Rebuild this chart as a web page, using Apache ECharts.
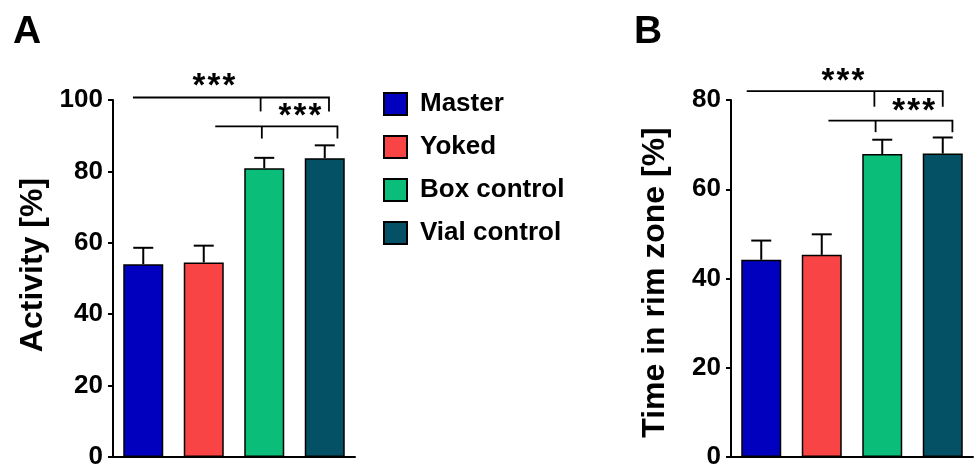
<!DOCTYPE html>
<html>
<head>
<meta charset="utf-8">
<script src="https://cdn.jsdelivr.net/npm/echarts@6.0.0/dist/echarts.min.js"></script>
<style>
html,body{margin:0;padding:0;background:#fff;}
#chart{width:977px;height:470px;}
</style>
</head>
<body>
<div id="chart"></div>
<script>
// ---- data ----
const categories = ['Master', 'Yoked', 'Box control', 'Vial control'];
const activityMean = [54.0, 54.5, 80.9, 83.7];
const activityUpper = [58.6, 59.2, 83.8, 87.3];
const rimMean = [44.2, 45.3, 67.9, 68.0];
const rimUpper = [48.5, 49.9, 71.1, 71.6];
const activityTicks = [0, 20, 40, 60, 80, 100];
const rimTicks = [0, 20, 40, 60, 80];
// significance brackets: [xStart, xEnd, yLine, yDrop, xTick]
const bracketsA = [[-0.17, 3.07, 100.7, 96.8, 1.94], [1.19, 3.21, 92.6, 89.2, 1.96]];
const bracketsB = [[-0.24, 3.0, 82.0, 78.5, 1.87], [1.11, 3.16, 75.4, 72.8, 1.89]];
// star labels: [x, y, text]
const starsA = [[1.17, 105.1, '***'], [2.59, 96.8, '***']];
const starsB = [[1.35, 85.2, '***'], [2.52, 78.5, '***']];

// ---- styles ----
const colors = ['#0000BE', '#F84444', '#0ABD78', '#045064'];
const FONT = '"Liberation Sans", Arial, Helvetica, sans-serif';

const chart = echarts.init(document.getElementById('chart'), null, {renderer: 'canvas'});

function yAxisDef(gridIndex, ticks, name, gap, pad) {
  return {
    type: 'value', gridIndex: gridIndex,
    min: ticks[0], max: ticks[ticks.length - 1], interval: ticks[1] - ticks[0],
    name: name, nameLocation: 'middle', nameRotate: 90, nameGap: gap,
    nameTextStyle: {fontFamily: FONT, fontSize: 32, fontWeight: 'bold', color: '#000', padding: pad},
    axisLine: {show: true, onZero: false, lineStyle: {color: '#000', width: 2}},
    axisTick: {show: true, inside: false, length: 5, lineStyle: {color: '#000', width: 2}},
    axisLabel: {fontFamily: FONT, fontSize: 26, fontWeight: 'bold', color: '#000', margin: 10},
    splitLine: {show: false}
  };
}
function catAxis(gridIndex) {
  return {
    type: 'category', gridIndex: gridIndex, data: categories,
    axisLine: {show: true, onZero: false, lineStyle: {color: '#000', width: 2}},
    axisTick: {show: false}, axisLabel: {show: false}, splitLine: {show: false}
  };
}
function valXAxis(gridIndex) {
  return {type: 'value', gridIndex: gridIndex, min: -0.5, max: 3.5, show: false,
    axisLine: {show: false, onZero: false}};
}

function barSeries(values, xIdx, yIdx) {
  return categories.map(function (c, i) {
    return {
      name: c, type: 'bar', xAxisIndex: xIdx, yAxisIndex: yIdx,
      barWidth: 40, barGap: '-100%',
      itemStyle: {color: colors[i], borderColor: '#000', borderWidth: 1.5},
      data: values.map(function (v, j) { return j === i ? v : '-'; }),
      z: 2
    };
  });
}
function errSeries(mean, upper, xIdx, yIdx) {
  return {
    type: 'custom', xAxisIndex: xIdx, yAxisIndex: yIdx, z: 3, clip: false,
    data: mean.map(function (m, i) { return [i, m, upper[i]]; }),
    renderItem: function (params, api) {
      const p0 = api.coord([api.value(0), api.value(1)]);
      const p1 = api.coord([api.value(0), api.value(2)]);
      return {type: 'group', children: [
        {type: 'line', shape: {x1: p0[0], y1: p0[1], x2: p1[0], y2: p1[1]}, style: {stroke: '#000', lineWidth: 2}},
        {type: 'line', shape: {x1: p1[0] - 10, y1: p1[1], x2: p1[0] + 10, y2: p1[1]}, style: {stroke: '#000', lineWidth: 2}}
      ]};
    }
  };
}
function bracketSeries(brackets, xIdx, yIdx) {
  return {
    type: 'custom', xAxisIndex: xIdx, yAxisIndex: yIdx, z: 4, clip: false,
    data: brackets,
    renderItem: function (params, api) {
      const a = api.coord([api.value(0), api.value(2)]);
      const b = api.coord([api.value(1), api.value(2)]);
      const bd = api.coord([api.value(1), api.value(3)]);
      const t1 = api.coord([api.value(4), api.value(2)]);
      const t2 = api.coord([api.value(4), api.value(3)]);
      const st = {stroke: '#000', lineWidth: 1.8, fill: null};
      return {type: 'group', children: [
        {type: 'polyline', shape: {points: [a, b, bd]}, style: st},
        {type: 'line', shape: {x1: t1[0], y1: t1[1], x2: t2[0], y2: t2[1]}, style: st}
      ]};
    }
  };
}
function starSeries(stars, xIdx, yIdx) {
  return {
    type: 'custom', xAxisIndex: xIdx, yAxisIndex: yIdx, z: 4, clip: false,
    data: stars,
    renderItem: function (params, api) {
      const p = api.coord([api.value(0), api.value(1)]);
      const children = [-15, 0, 15].map(function (dx) {
        return {type: 'text', x: p[0] + dx, y: p[1] + 5,
          style: {text: '*', fontFamily: FONT, fontSize: 33, fontWeight: 'bold', fill: '#000', align: 'center', verticalAlign: 'middle'}};
      });
      return {type: 'group', children: children};
    }
  };
}

const option = {
  animation: false,
  backgroundColor: '#fff',
  title: [
    {text: 'A', left: 8, top: 8, textStyle: {fontFamily: FONT, fontSize: 39, fontWeight: 'bold', color: '#000'}},
    {text: 'B', left: 629, top: 8, textStyle: {fontFamily: FONT, fontSize: 39, fontWeight: 'bold', color: '#000'}}
  ],
  legend: {
    data: categories, orient: 'vertical', left: 383, top: 91, padding: 0,
    itemWidth: 23, itemHeight: 22, itemGap: 17, icon: 'rect',
    selectedMode: false,
    textStyle: {fontFamily: FONT, fontSize: 26, fontWeight: 'bold', color: '#000', lineHeight: 22, padding: [0, 0, 0, 8]}
  },
  grid: [
    {left: 113, right: 622, top: 100, bottom: 9, containLabel: false},
    {left: 731, right: 4, top: 100, bottom: 9, containLabel: false}
  ],
  xAxis: [catAxis(0), valXAxis(0), catAxis(1), valXAxis(1)],
  yAxis: [
    yAxisDef(0, activityTicks, 'Activity [%]', 64, [0, 0, 0, 27]),
    yAxisDef(1, rimTicks, 'Time in rim zone [%]', 60, [0, 8, 0, 0])
  ],
  series: [].concat(
    barSeries(activityMean, 0, 0),
    barSeries(rimMean, 2, 1),
    [errSeries(activityMean, activityUpper, 0, 0),
     errSeries(rimMean, rimUpper, 2, 1),
     bracketSeries(bracketsA, 1, 0),
     bracketSeries(bracketsB, 3, 1),
     starSeries(starsA, 1, 0),
     starSeries(starsB, 3, 1)]
  )
};
chart.setOption(option);
</script>
</body>
</html>
